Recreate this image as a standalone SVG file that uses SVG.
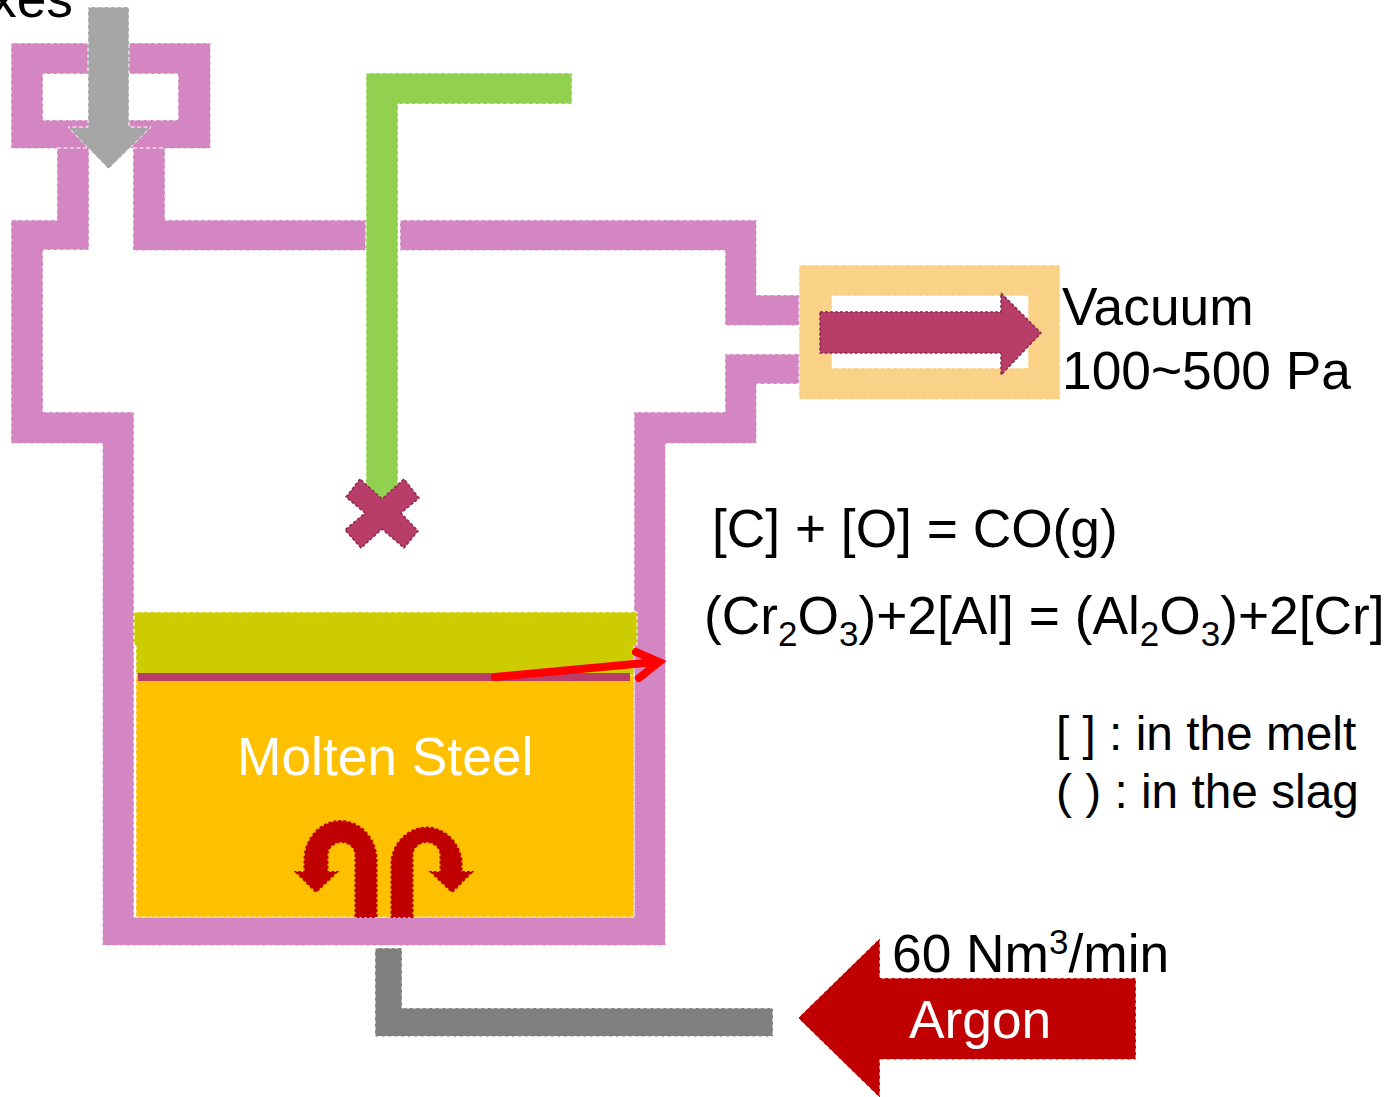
<svg xmlns="http://www.w3.org/2000/svg" width="1388" height="1097" viewBox="0 0 1388 1097">
<style>
.w{stroke:#fff;stroke-width:1;stroke-dasharray:4 2.500}
.wall{fill:#D486C3}
.d{stroke:#8A2A50;stroke-width:1.500;stroke-dasharray:3 2;fill:#B83D68}
.red{fill:#C00000;stroke:#C00000;stroke-width:2;stroke-dasharray:3 2}
text{font-family:"Liberation Sans",Arial,sans-serif;font-size:53.300px;fill:#000}
.s{font-size:47.800px}
.sub{font-size:35px}
.wt{fill:#fff}
.rl{stroke:#f00;stroke-width:8;stroke-linecap:round;fill:none}
</style>
<rect width="1388" height="1097" fill="#fff"/>
<g id="vessel">
<path class="wall w" fill-rule="evenodd" d="M11,43H210.500V148.500H11ZM43,74V120H178V74Z"/>
<path class="wall w" d="M57,148H89V250H43V412H134V917H634V412H725V354H800V384H756.500V443.500H665.500V945.500H102.500V443.500H11V220H57Z"/>
<path class="wall w" d="M133,148H165V220H366V250.500H133Z"/>
<path class="wall w" d="M400,220H756.500V295H800V325.500H725V250.500H400Z"/>
</g>
<g id="flux-arrow">
<path class="w" fill="#A6A6A6" d="M88,7H129V127H151L108.500,169L68,127H88Z"/>
</g>
<g id="lance">
<path class="w" fill="#92D050" d="M366,73H572V104H398V500L382,515L366,500Z"/>
<path class="d" d="M360,479L346,497L365,513L345,530L361,548L382,529L404,548L418,531L401,513L419,498L404,479L382,499Z"/>
</g>
<g id="vacuum-duct">
<path class="w" fill="#FAD287" fill-rule="evenodd" d="M799,265H1060V399.500H799ZM832,296V368H1028V296Z"/>
<path class="d" d="M820,312H1001V293L1041,333L1001,375V353H820Z"/>
</g>
<g id="melt">
<rect class="w" x="136" y="675" width="498" height="242" fill="#FFC000"/>
<path class="w" fill="#CCCC00" d="M134,612H637V645H634V675H136V645H134Z"/>
<rect x="138" y="673" width="492" height="8" fill="#B83D68"/>
<text class="wt" x="237" y="775">Molten Steel</text>
</g>
<g id="stirring">
<path class="red" d="M355.500,917V855A14,13 0 0 0 327.500,855V872H337L316,892L296,872H304.500V860A36,39 0 0 1 376.500,860V917Z"/>
<path class="red" d="M412.500,917V855A14,13 0 0 1 440.500,855V872H431L452,892L472,872H461.500V860A35.500,39 0 0 0 391.500,860V917Z"/>
</g>
<g id="argon-pipe">
<path class="w" fill="#7F7F7F" d="M375,948H402V1008H773V1036.500H375Z"/>
</g>
<g id="argon-arrow">
<path class="w" fill="#C00000" d="M798,1018L880,938V978H1136V1059.500H880V1098Z"/>
<text class="wt" x="909" y="1038">Argon</text>
</g>
<g id="connectors">
<path class="rl" d="M495,677L656,662"/>
<path class="rl" stroke-linejoin="miter" d="M636,652L659,662L639,678"/>
</g>
<g id="labels">
<text x="-10" y="17">xes</text>
<text x="1062" y="325">Vacuum</text>
<text x="1062" y="389">100~500 Pa</text>
<text x="712" y="547">[C] + [O] = CO(g)</text>
<text x="704" y="634">(Cr<tspan class="sub" dy="12">2</tspan><tspan dy="-12">O</tspan><tspan class="sub" dy="12">3</tspan><tspan dy="-12">)+2[Al] = (Al</tspan><tspan class="sub" dy="12">2</tspan><tspan dy="-12">O</tspan><tspan class="sub" dy="12">3</tspan><tspan dy="-12">)+2[Cr]</tspan></text>
<text class="s" x="1056" y="750">[ ] : in the melt</text>
<text class="s" x="1056" y="808">( ) : in the slag</text>
<text x="892" y="972">60 Nm<tspan class="sub" dy="-18">3</tspan><tspan dy="18">/min</tspan></text>
</g>
</svg>
